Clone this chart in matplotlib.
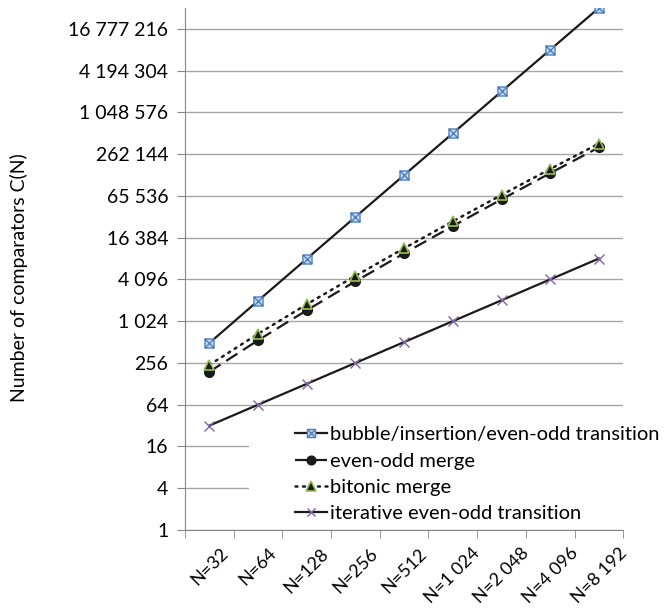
#!/usr/bin/env python3
"""Number of comparators C(N) for several sorting networks (log scale)."""
import matplotlib
matplotlib.use("Agg")
import matplotlib.pyplot as plt
from matplotlib.path import Path
from matplotlib.patches import Rectangle

# data
categories = ["N=32", "N=64", "N=128", "N=256", "N=512",
              "N=1 024", "N=2 048", "N=4 096", "N=8 192"]
bubble = [496, 2016, 8128, 32640, 130816, 523776, 2096128, 8386560, 33550336]
eo_merge = [191, 543, 1471, 3839, 9727, 24063, 58367, 139263, 327679]
bitonic = [240, 672, 1792, 4608, 11520, 28160, 67584, 159744, 372736]
iterative = [32, 64, 128, 256, 512, 1024, 2048, 4096, 8192]

series_labels = ["bubble/insertion/even-odd transition", "even-odd merge",
                 "bitonic merge", "iterative even-odd transition"]
ytick_vals = [4 ** k for k in range(13)]

plt.rcParams["font.family"] = ["Lato", "DejaVu Sans"]
FS = 14

# square with an X inside (Excel style marker)
box_x = Path(
    [(-1, -1), (1, -1), (1, 1), (-1, 1), (-1, -1), (-1, -1), (1, 1), (-1, 1), (1, -1)],
    [Path.MOVETO, Path.LINETO, Path.LINETO, Path.LINETO, Path.CLOSEPOLY,
     Path.MOVETO, Path.LINETO, Path.MOVETO, Path.LINETO],
)

fig = plt.figure(figsize=(6.68, 6.12), dpi=100)
ax = fig.add_axes([0.277, 0.134, 0.656, 0.853])

x = list(range(len(categories)))
ax.plot(x, bubble, color="#1a1a1a", lw=1.6, marker=box_x, ms=6.5,
        mfc="#c6d9f1", mec="#4f81bd", mew=1.0, label=series_labels[0], zorder=3)
ax.plot(x, eo_merge, color="#1a1a1a", lw=1.6, dashes=(6, 3), marker="o", ms=7,
        mfc="#1a1a1a", mec="#1a1a1a", label=series_labels[1], zorder=3)
ax.plot(x, bitonic, color="#1a1a1a", lw=1.8, linestyle=(0, (0.8, 2.2)),
        dash_capstyle="round", marker="^", ms=7.5, mfc="#1a1a1a", mec="#9bbb59",
        mew=1.2, label=series_labels[2], zorder=4)
ax.plot(x, iterative, color="#1a1a1a", lw=1.6, marker="x", ms=7,
        mec="#8064a2", mew=1.0, label=series_labels[3], zorder=3)

ax.set_yscale("log", base=2)
ax.set_ylim(1, 2 ** 25)
ax.set_xlim(-0.5, len(categories) - 0.5)
ax.set_yticks(ytick_vals)
ax.set_yticklabels([f"{v:,}".replace(",", " ") for v in ytick_vals], fontsize=FS)
ax.minorticks_off()
ax.set_xticks(x)
ax.set_xticklabels(categories, rotation=45, ha="center", fontsize=13)
ax.tick_params(axis="x", length=0, pad=11)
ax.set_xticks([i + 0.5 for i in range(-1, len(categories))], minor=True)
ax.tick_params(axis="x", which="minor", length=6, color="#868686")
ax.tick_params(axis="y", length=6, color="#868686", pad=6)

ax.grid(axis="y", color="#a6a6a6", lw=1.0)
ax.set_axisbelow(True)
for side in ["top", "right"]:
    ax.spines[side].set_visible(False)
for side in ["left", "bottom"]:
    ax.spines[side].set_color("#868686")

ax.set_ylabel("Number of comparators C(N)", fontsize=FS)
ax.yaxis.set_label_coords(-0.358, 0.483)

# white legend area hiding the lower gridlines
ax.add_patch(Rectangle((0.146, 0.004), 0.9, 0.211, transform=ax.transAxes,
                       facecolor="white", edgecolor="none", zorder=1,
                       clip_on=False))

leg = ax.legend(loc="upper left", bbox_to_anchor=(0.251, 0.199), fontsize=14.5,
                frameon=False, borderpad=0, handlelength=1.6,
                handletextpad=0.15, labelspacing=0.46, borderaxespad=0,
                markerscale=0.9)

fig.savefig("out.png", dpi=100)
